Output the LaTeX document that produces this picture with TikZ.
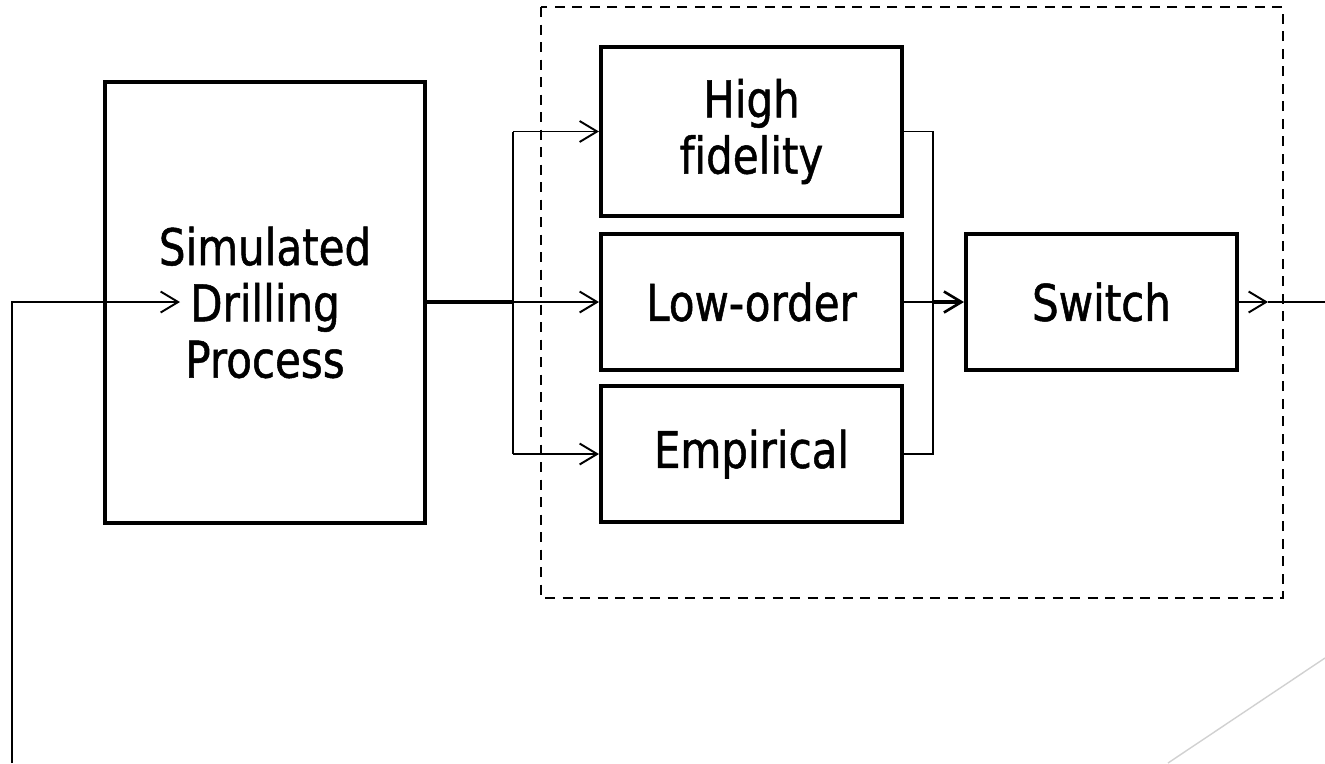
\documentclass[tikz,border=0pt]{standalone}
\usepackage{fontspec}
\setmainfont[FakeStretch=0.83,FakeBold=1,Ligatures=NoCommon]{DejaVu Sans}
\usetikzlibrary{arrows.meta}

\begin{document}
\begin{tikzpicture}[
  blk/.style={draw,line width=2.3pt,align=center,inner sep=0pt,
    font=\fontsize{28.8}{32}\selectfont},
  wire/.style={line width=1.1pt},
  heavy/.style={line width=2.3pt},
  tip/.style={-{Straight Barb[length=3.5mm,width=4.2mm,line width=1.1pt]}}
]
\useasboundingbox (0,0) rectangle (26.5,-15.26);

\node[blk,minimum width=6.4cm,minimum height=8.82cm] (sim) at (5.3,-6.05) {Simulated\\Drilling\\Process};
\node[blk,minimum width=6.02cm,minimum height=3.38cm] (hf) at (15.03,-2.63) {High\\fidelity};
\node[blk,minimum width=6.02cm,minimum height=2.72cm] (lo) at (15.03,-6.04) {Low-order};
\node[blk,minimum width=6.02cm,minimum height=2.72cm] (emp) at (15.03,-9.08) {Empirical};
\node[blk,minimum width=5.42cm,minimum height=2.72cm] (sw) at (22.03,-6.04) {Switch};

%\draw (10.82,-0.14) rectangle (25.66,-11.96);
\draw[line width=1.4pt,dash pattern=on 2mm off 1.5mm] (10.82,-0.14) rectangle (25.66,-11.96);

%-------------------------------------
\coordinate (split) at (10.26,-6.04);
\coordinate (join) at (18.66,-6.04);
\coordinate (arr) at (25.36,-6.04);
\coordinate (out) at (26.5,-6.04);
\coordinate (fb) at (0.24,-15.26);
\coordinate (fbin) at (3.6,-6.04);

\draw[heavy] (sim.east |- split) -- (split);
\draw[wire,tip] (split) -- (lo.west);
\draw[wire,tip] (split |- hf.west) -- (hf.west);
\draw[wire,tip] (split |- emp.west) -- (emp.west);
\draw[wire] (split |- hf.west) -- (split |- emp.west);

\draw[wire] (hf.east) -| (join);
\draw[wire] (emp.east) -| (join);
\draw[wire] (lo.east) -- (join);
\draw[heavy,-{Straight Barb[length=3.5mm,width=4.2mm,line width=1.5pt]}] (join) -- (sw.west);

\draw[wire,tip] (sw.east) -- (arr);
\draw[wire] (arr) -- (out);

\draw[wire,tip] (fb) |- (fbin);

%-------------------------------------
\draw[line width=0.8pt,color=black!18] (26.5,-13.16) -- (23.36,-15.26);
\end{tikzpicture}
\end{document}
